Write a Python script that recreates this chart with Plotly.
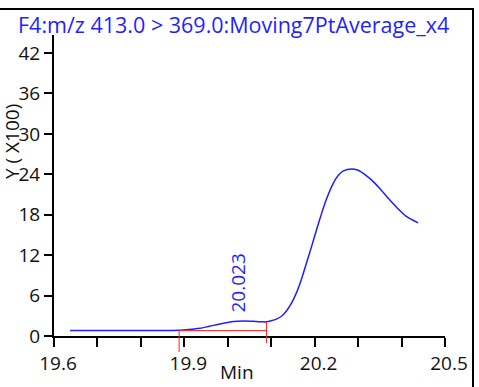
import numpy as np
import plotly.graph_objects as go

# ---- data ----
time_min = [19.637, 19.70, 19.75, 19.80, 19.85, 19.888, 19.91, 19.936, 19.955, 19.974,
            19.99, 20.005, 20.023, 20.04, 20.059, 20.075, 20.089, 20.10, 20.112, 20.125,
            20.135, 20.147, 20.158, 20.17, 20.181, 20.193, 20.204, 20.216, 20.227, 20.243,
            20.255, 20.266, 20.285, 20.30, 20.315, 20.33, 20.35, 20.37, 20.39, 20.41, 20.438]
intensity_x100 = [0.8, 0.8, 0.8, 0.8, 0.8, 0.85, 0.95, 1.14, 1.4, 1.68,
                  1.9, 2.08, 2.2, 2.23, 2.18, 2.12, 2.1, 2.25, 2.5, 3.0,
                  3.7, 4.9, 6.4, 8.5, 10.8, 13.3, 15.7, 18.2, 20.3, 22.7,
                  23.9, 24.5, 24.8, 24.6, 24.0, 23.2, 21.9, 20.4, 19.0, 17.8, 16.8]

peak_rt = 20.023
peak_label = "20.023"
peak_start = 19.888
peak_end = 20.089
baseline_level = 0.8

x_tickvals = [19.6, 19.9, 20.2, 20.5]
x_ticktext = ["19.6", "19.9", "20.2", "20.5"]
y_tickvals = [0, 6, 12, 18, 24, 30, 36, 42]
y_ticktext = ["0", "6", "12", "18", "24", "30", "36", "42"]

title_text = "F4:m/z 413.0 > 369.0:Moving7PtAverage_x4"
y_title = "Y ( X100)"
x_title = "Min"

# ---- layout geometry (paper area starts at the frame's top edge) ----
W, H = 479, 387
ML, MR, MT, MB = 54, 34, 9, 51
PLOT_TOP = 35
PW, PH = W - ML - MR, H - MT - MB
Y_DOMAIN_TOP = (H - MB - PLOT_TOP) / PH
def px_x(px):
    return (px - ML) / PW
def px_y(py):
    return (H - MB - py) / PH

FONT = "Open Sans, Noto Sans, sans-serif"
BLUE = "#1f1fff"
RED = "#ff2020"
INK = "#111111"

fig = go.Figure()
fig.add_trace(go.Scatter(x=time_min, y=intensity_x100, mode="lines",
                         line=dict(color=BLUE, width=1.5, shape="spline", smoothing=0.6),
                         hoverinfo="skip", showlegend=False))

end_level = float(np.interp(peak_end, time_min, intensity_x100))

shapes = [
    # outer frame (top and right edges visible)
    dict(type="line", xref="paper", yref="paper", x0=px_x(0), x1=px_x(474),
         y0=1, y1=1, line=dict(color="black", width=2)),
    dict(type="line", xref="paper", yref="paper", x0=px_x(473), x1=px_x(473),
         y0=px_y(390), y1=1, line=dict(color="black", width=2)),
    # integration baseline and boundaries
    dict(type="line", xref="x", yref="y", x0=peak_start, x1=peak_end,
         y0=baseline_level, y1=baseline_level, line=dict(color=RED, width=1)),
    dict(type="line", xref="x", yref="y", x0=peak_start, x1=peak_start,
         y0=0, y1=baseline_level, line=dict(color=RED, width=1)),
    dict(type="line", xref="x", yref="paper", x0=peak_start, x1=peak_start,
         y0=-16 / PH, y1=0, line=dict(color=RED, width=1)),
    dict(type="line", xref="x", yref="y", x0=peak_end, x1=peak_end,
         y0=0, y1=end_level, line=dict(color=RED, width=1)),
    dict(type="line", xref="x", yref="paper", x0=peak_end, x1=peak_end,
         y0=-7 / PH, y1=0, line=dict(color=RED, width=1)),
]

annotations = [
    dict(text=title_text, xref="paper", yref="paper", x=px_x(16), y=px_y(25),
         xanchor="left", yanchor="middle", showarrow=False,
         font=dict(family=FONT, size=21.5, color=BLUE)),
    dict(text=y_title, xref="paper", yref="paper", x=px_x(12), y=px_y(142),
         xanchor="center", yanchor="middle", textangle=-90, showarrow=False,
         font=dict(family=FONT, size=19, color=INK)),
    dict(text=x_title, xref="paper", yref="paper", x=px_x(237), y=px_y(387),
         xanchor="center", yanchor="bottom", showarrow=False,
         font=dict(family=FONT, size=19, color=INK)),
    dict(text=peak_label, xref="x", yref="y", x=peak_rt, y=7.9,
         xanchor="center", yanchor="middle", textangle=-90, showarrow=False,
         font=dict(family=FONT, size=19, color=BLUE)),
]

fig.update_layout(
    width=W, height=H,
    margin=dict(l=ML, r=MR, t=MT, b=MB, pad=0),
    paper_bgcolor="white", plot_bgcolor="white",
    showlegend=False,
    shapes=shapes, annotations=annotations,
    font=dict(family=FONT, size=19, color=INK),
    xaxis=dict(range=[19.6, 20.5], tickvals=x_tickvals, ticktext=x_ticktext,
               showgrid=False, zeroline=False, showline=True, linecolor="black",
               linewidth=2, ticks="outside", ticklen=9, tickwidth=2, tickcolor="black",
               ticklabelshift=4,
               minor=dict(dtick=0.1, tick0=19.6, ticks="outside", ticklen=9,
                          tickwidth=2, tickcolor="black", showgrid=False),
               tickfont=dict(family=FONT, size=19, color=INK)),
    yaxis=dict(range=[0, 44.67], domain=[0, Y_DOMAIN_TOP],
               tickvals=y_tickvals, ticktext=y_ticktext,
               showgrid=False, zeroline=False, showline=True, linecolor="black",
               linewidth=2, ticks="outside", ticklen=8, tickwidth=2, tickcolor="black",
               tickfont=dict(family=FONT, size=19, color=INK)),
)

fig.write_html("out.html", config={"displayModeBar": False},
               post_script="document.body.style.margin='0';document.body.style.overflow='hidden';")
